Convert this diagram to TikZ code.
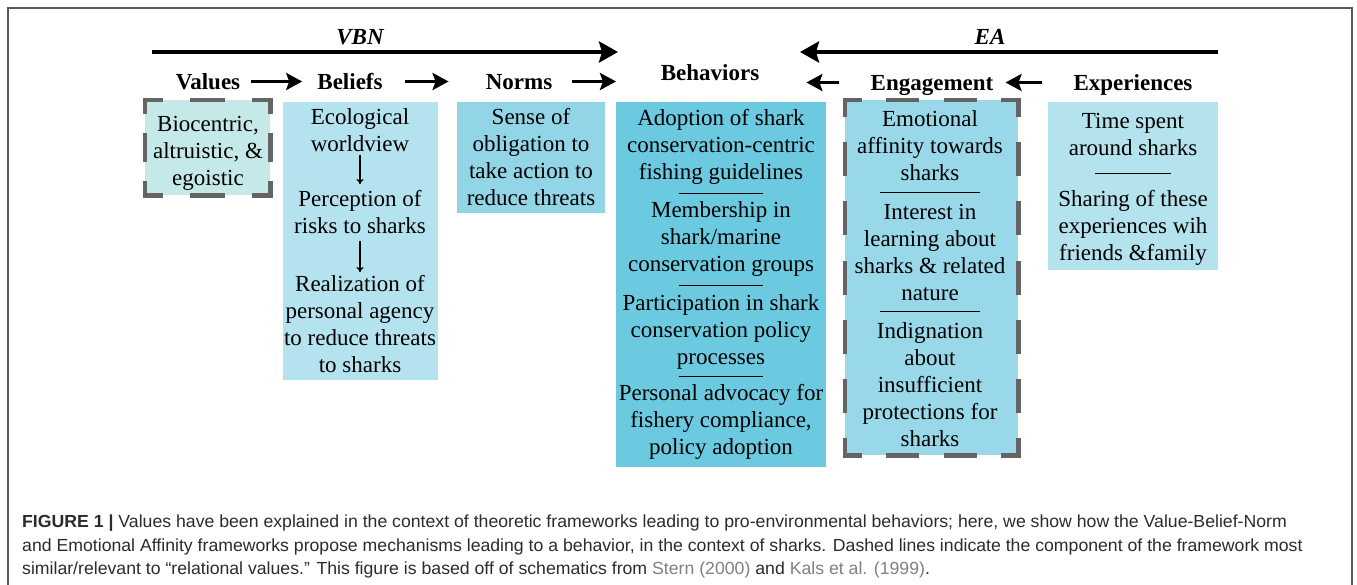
\documentclass[tikz,border=0pt]{standalone}
\usepackage{fontspec}
\setmainfont{Liberation Serif}
\newfontfamily\capfont[FakeStretch=1.01]{Liberation Sans}
\usetikzlibrary{arrows.meta, positioning, calc}
\definecolor{valuecol}{RGB}{197,232,232}
\definecolor{beliefcol}{RGB}{180,226,238}
\definecolor{normcol}{RGB}{146,213,231}
\definecolor{behavcol}{RGB}{108,202,224}
\definecolor{engagecol}{RGB}{152,216,233}
\definecolor{expercol}{RGB}{180,226,237}
\definecolor{dashcol}{RGB}{100,100,100}
\definecolor{captext}{RGB}{45,42,43}
\definecolor{citecol}{RGB}{128,128,128}
\definecolor{framecol}{RGB}{90,90,90}
\newcommand{\boxsize}{\fontsize{23}{27}\selectfont}
\newcommand{\capsize}{\fontsize{17.5}{23.5}\selectfont}

\begin{document}
\begin{tikzpicture}[x=1pt,y=-1pt,
    >={Stealth[length=19pt,width=21pt,inset=3pt]},
    head node/.style={font=\boxsize\bfseries, inner sep=0pt, anchor=base,
      text height=17pt, text depth=0pt},
    item node/.style={font=\boxsize, align=center, inner sep=0pt},
    box node/.style={inner sep=0pt, anchor=north west},
    relational/.style={draw=dashcol, line width=4.5pt, line cap=rect},
    long arrow/.style={->, line width=4pt},
    short arrow/.style={-{Stealth[length=16pt,width=17pt,inset=3pt]}, line width=3.5pt},
    down arrow/.style={-{To[length=5pt,width=7pt]}, line width=1.3pt},
    sep line/.style={line width=1pt}]

  \useasboundingbox (0,0) rectangle (1357,585);
  \draw[framecol, line width=1.5pt] (8,585) -- (8,8) -- (1352,8) -- (1352,585);

  % framework arrows
  \coordinate (vbnstart) at (152,52);
  \coordinate (vbnend) at (618,52);
  \coordinate (eastart) at (1218,52);
  \coordinate (eaend) at (800,52);
  \draw[long arrow] (vbnstart) -- (vbnend);
  \draw[long arrow] (eastart) -- (eaend);
  \node[font=\boxsize\bfseries\itshape, anchor=base] (vbn) at (360,45) {VBN};
  \node[font=\boxsize\bfseries\itshape, anchor=base] (ea) at (990,45) {EA};

  % column heads
  \node[head node] (valhead) at (208,90) {Values};
  \node[head node] (belhead) at (350,90) {Beliefs};
  \node[head node] (norhead) at (519,90) {Norms};
  \node[head node] (behhead) at (710,81) {Behaviors};
  \node[head node] (enghead) at (932,91) {Engagement};
  \node[head node] (exphead) at (1133,91) {Experiences};

  % coloured panels
  \node[box node, fill=valuecol, minimum width=125pt, minimum height=95pt] (valbox) at (145,100) {};
  \node[box node, fill=beliefcol, minimum width=155pt, minimum height=278pt] (belbox) at (283,102) {};
  \node[box node, fill=normcol, minimum width=148pt, minimum height=111pt] (norbox) at (457,102) {};
  \node[box node, fill=behavcol, minimum width=210pt, minimum height=365pt] (behbox) at (616,102) {};
  \node[box node, fill=engagecol, minimum width=173pt, minimum height=355pt] (engbox) at (845,100) {};
  \node[box node, fill=expercol, minimum width=170pt, minimum height=168pt] (expbox) at (1048,102) {};

  % dashed frames, one pattern per side so the corners close
  \draw[relational, dash pattern=on 31.25pt off 31.25pt, dash phase=15.6pt]
    (valbox.north west) -- (valbox.north east) (valbox.south west) -- (valbox.south east);
  \draw[relational, dash pattern=on 23.75pt off 23.75pt, dash phase=11.9pt]
    (valbox.north west) -- (valbox.south west) (valbox.north east) -- (valbox.south east);
  \draw[relational, dash pattern=on 28.8pt off 28.8pt, dash phase=14.4pt]
    (engbox.north west) -- (engbox.north east) (engbox.south west) -- (engbox.south east);
  \draw[relational, dash pattern=on 29.6pt off 29.6pt, dash phase=14.8pt]
    (engbox.north west) -- (engbox.south west) (engbox.north east) -- (engbox.south east);

  % head arrows
  \draw[short arrow, shorten <=11pt, shorten >=15pt] (valhead.east) -- (belhead.west);
  \draw[short arrow, shorten <=22pt, shorten >=37pt] (belhead.east) -- (norhead.west);
  \draw[short arrow, shorten <=20pt] (norhead.east) -- (norhead.east -| behbox.west);
  \draw[short arrow, shorten <=31pt, shorten >=47pt] (enghead.west) -- (enghead.west -| behhead.east);
  \draw[short arrow, shorten <=31pt, shorten >=12pt] (exphead.west) -- (enghead.east);

  % values
  \node[item node] (val1) at (208,153) {Biocentric,\\altruistic, \&\\egoistic};

  % beliefs
  \node[item node] (bel1) at (360,130) {Ecological\\worldview};
  \node[item node] (bel2) at (360,212) {Perception of\\risks to sharks};
  \node[item node] (bel3) at (360,324) {Realization of\\personal agency\\to reduce threats\\to sharks};
  \draw[down arrow, shorten <=3pt, shorten >=6pt] (bel1) -- (bel2);
  \draw[down arrow, shorten <=7pt, shorten >=3pt] (bel2) -- (bel3);

  % norms
  \node[item node] (nor1) at (531,157) {Sense of\\obligation to\\take action to\\reduce threats};

  % behaviors
  \node[item node] (beh1) at (721,147) {Adoption of shark\\conservation-centric\\fishing guidelines};
  \node[item node] (beh2) at (721,239) {Membership in\\shark/marine\\conservation groups};
  \node[item node] (beh3) at (721,332) {Participation in shark\\conservation policy\\processes};
  \node[item node] (beh4) at (721,422) {Personal advocacy for\\fishery compliance,\\policy adoption};
  \foreach \a/\b in {beh1/beh2, beh2/beh3, beh3/beh4}
    \draw[sep line] ($(\a.south)!0.5!(\b.north)$) +(-42,0) -- +(42,0);

  % engagement
  \node[item node] (eng1) at (930,146) {Emotional\\affinity towards\\sharks};
  \node[item node] (eng2) at (930,252) {Interest in\\learning about\\sharks \& related\\nature};
  \node[item node] (eng3) at (930,385) {Indignation\\about\\insufficient\\protections for\\sharks};
  \foreach \a/\b in {eng1/eng2, eng2/eng3}
    \draw[sep line] ($(\a.south)!0.5!(\b.north)$) +(-50,0) -- +(50,0);

  % experiences
  \node[item node] (exp1) at (1133,135) {Time spent\\around sharks};
  \node[item node] (exp2) at (1133,228) {Sharing of these\\experiences wih\\friends \&family};
  \draw[sep line] ($(exp1.south)!0.5!(exp2.north)$) +(-38,0) -- +(38,0);

  % caption
  \node[anchor=north west, inner sep=0pt, align=left, font=\capfont\capsize, text=captext] (caption) at (22,515)
    {\textbf{FIGURE 1 |} Values have been explained in the context of theoretic frameworks leading to pro-environmental behaviors; here, we show how the Value-Belief-Norm\\
     and Emotional Affinity frameworks propose mechanisms leading to a behavior, in the context of sharks. Dashed lines indicate the component of the framework most\\
     similar/relevant to “relational values.” This figure is based off of schematics from \textcolor{citecol}{Stern (2000)} and \textcolor{citecol}{Kals et al. (1999)}.};
\end{tikzpicture}
\end{document}
